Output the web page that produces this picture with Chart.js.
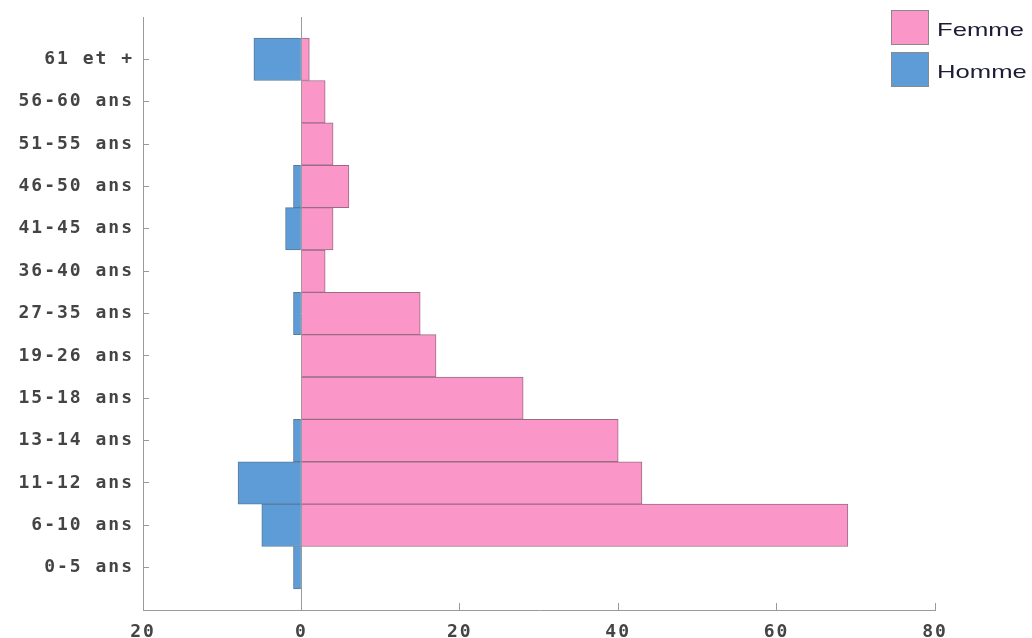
<!DOCTYPE html>
<html>
<head>
<meta charset="utf-8">
<script src="https://cdn.jsdelivr.net/npm/chart.js@4/dist/chart.umd.min.js"></script>
<style>
  body { margin: 0; background: #fff; }
  #wrap { position: relative; width: 1032px; height: 638px; }
  #legend { position: absolute; left: 891px; top: 10px; font-family: "Liberation Sans", Arial, sans-serif; }
  .item { display: flex; align-items: center; height: 35px; margin-bottom: 7px; }
  .box { width: 38px; height: 35px; border: 1px solid #8a8a8a; box-sizing: border-box; }
  .txt { margin-left: 8px; font-size: 19px; color: #1c1c36; transform: scaleX(1.35); transform-origin: left center; position: relative; top: 2px; }
</style>
</head>
<body>
<div id="wrap">
  <canvas id="chart" width="1032" height="638"></canvas>
  <div id="legend"></div>
</div>
<script>
// bottom to top
const categories = ["0-5 ans", "6-10 ans", "11-12 ans", "13-14 ans", "15-18 ans", "19-26 ans",
  "27-35 ans", "36-40 ans", "41-45 ans", "46-50 ans", "51-55 ans", "56-60 ans", "61 et +"];
const femme = [null, 69, 43, 40, 28, 17, 15, 3, 4, 6, 4, 3, 1];
const homme = [-1, -5, -8, -1, null, null, -1, null, -2, -1, null, null, -6];
const xTicks = [-20, 0, 20, 40, 60, 80];

const rows = categories.map((c, i) => i);
const toPoints = vals => vals.map((v, i) => ({ x: v, y: i }));

const axisFont = { family: "'DejaVu Sans Mono', monospace", size: 18, weight: "bold" };
const gray = "#9a9a9a";

const ctx = document.getElementById("chart").getContext("2d");
const chart = new Chart(ctx, {
  type: "bar",
  data: {
    datasets: [
      { label: "Femme", data: toPoints(femme), backgroundColor: "#fb96c9", borderColor: "#9a6c84", borderWidth: 1 },
      { label: "Homme", data: toPoints(homme), backgroundColor: "#5d9cd6", borderColor: "#5a7a98", borderWidth: 1 }
    ]
  },
  options: {
    indexAxis: "y",
    responsive: false,
    animation: false,
    barPercentage: 1,
    categoryPercentage: 1,
    layout: { padding: { top: 17, right: 97, left: 0, bottom: 0 } },
    plugins: { legend: { display: false }, tooltip: { enabled: false } },
    scales: {
      x: {
        type: "linear", min: -20, max: 80, stacked: true,
        afterBuildTicks: s => { s.ticks = xTicks.map(v => ({ value: v })); },
        afterFit: s => { s.height = 28; s.paddingLeft = 0; },
        ticks: { callback: v => Math.abs(v), padding: 19, color: "#444", font: axisFont },
        grid: {
          color: c => (c.tick && c.tick.value === 0 ? gray : "transparent"),
          tickColor: gray, tickLength: -7, lineWidth: 1
        },
        border: { color: gray }
      },
      y: {
        type: "linear", min: -1, max: 13, stacked: true, offset: false,
        afterBuildTicks: s => { s.ticks = rows.map(v => ({ value: v })); },
        afterFit: s => { s.width = 143; s.paddingTop = 0; s.paddingBottom = 0; },
        ticks: { callback: v => categories[v], padding: 15, color: "#444", font: axisFont },
        grid: { drawOnChartArea: false, offset: false, tickColor: gray, tickLength: -6 },
        border: { color: gray }
      }
    }
  },
  plugins: [{ id: "spacing", beforeDraw: c => { c.ctx.letterSpacing = "2px"; } }]
});

// legend drawn outside the plot, like the original
const legend = document.getElementById("legend");
chart.data.datasets.forEach(ds => {
  const item = document.createElement("div");
  item.className = "item";
  item.innerHTML = `<div class="box" style="background:${ds.backgroundColor}"></div><span class="txt">${ds.label}</span>`;
  legend.appendChild(item);
});
</script>
</body>
</html>
